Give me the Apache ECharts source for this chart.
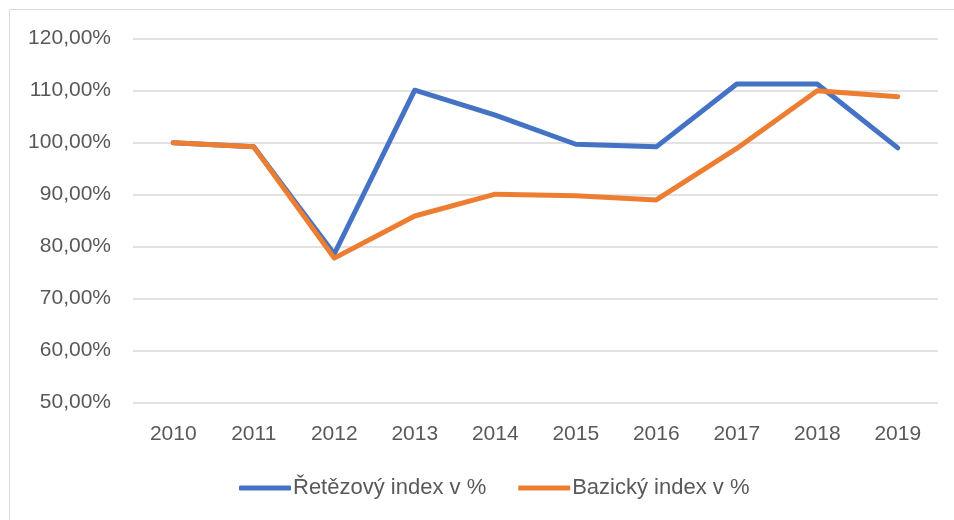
<!DOCTYPE html>
<html>
<head>
<meta charset="utf-8">
<script src="https://cdn.jsdelivr.net/npm/echarts@6/dist/echarts.min.js"></script>
<style>html,body{margin:0;padding:0;background:#fff}#c{width:954px;height:520px}</style>
</head>
<body>
<div id="c"></div>
<script>
const categories = ['2010','2011','2012','2013','2014','2015','2016','2017','2018','2019'];
const chainIndex = [100.0, 99.2, 78.6, 110.1, 105.3, 99.7, 99.2, 111.3, 111.3, 99.0];
const baseIndex = [100.0, 99.2, 77.8, 85.9, 90.1, 89.8, 89.0, 98.9, 110.0, 108.85];
const seriesNames = ['Řetězový index v %', 'Bazický index v %'];
const yMin = 50, yMax = 120, yStep = 10;

const font = 'Liberation Sans';
const chart = echarts.init(document.getElementById('c'), null, {renderer: 'canvas'});
chart.setOption({
  animation: false,
  backgroundColor: '#fff',
  graphic: [{
    type: 'rect', silent: true, z: -10,
    shape: {x: 9.5, y: 9.5, width: 1000, height: 700},
    style: {fill: 'none', stroke: '#d9d9d9', lineWidth: 1}
  }],
  grid: {left: 133, right: 16, top: 38.7, bottom: 117.3, containLabel: false},
  legend: {
    bottom: 16, left: 234,
    icon: 'roundRect', itemWidth: 52, itemHeight: 5, itemGap: 32,
    textStyle: {fontFamily: font, fontSize: 22, color: '#595959', padding: [0,0,0,-3]},
    data: seriesNames
  },
  xAxis: {
    type: 'category', data: categories, boundaryGap: true,
    axisLine: {show: false}, axisTick: {show: false},
    axisLabel: {fontFamily: font, fontSize: 21, color: '#595959', margin: 21}
  },
  yAxis: {
    type: 'value', min: yMin, max: yMax, interval: yStep,
    axisLine: {show: false}, axisTick: {show: false},
    splitLine: {lineStyle: {color: '#d9d9d9', width: 1.5}},
    axisLabel: {fontFamily: font, fontSize: 21, color: '#595959', margin: 22,
      formatter: v => v.toFixed(2).replace('.', ',') + '%'}
  },
  series: [
    {name: seriesNames[0], type: 'line', data: chainIndex, symbol: 'none',
     itemStyle: {color: '#4472C4'},
     lineStyle: {color: '#4472C4', width: 5, cap: 'round', join: 'round'}},
    {name: seriesNames[1], type: 'line', data: baseIndex, symbol: 'none',
     itemStyle: {color: '#ED7D31'},
     lineStyle: {color: '#ED7D31', width: 5, cap: 'round', join: 'round'}}
  ]
});
</script>
</body>
</html>
